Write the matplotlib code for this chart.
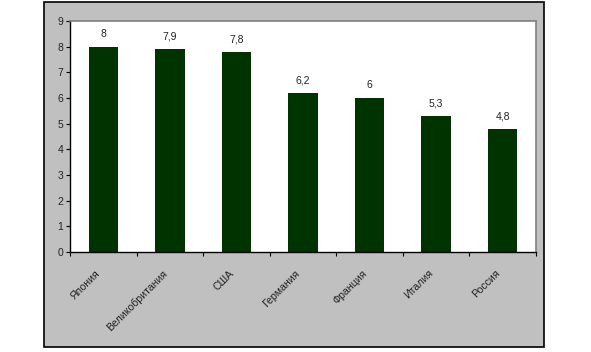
import numpy as np
import matplotlib.pyplot as plt
import matplotlib.transforms as mtransforms
from matplotlib.patches import Rectangle

countries = ["Япония", "Великобритания", "США", "Германия", "Франция", "Италия", "Россия"]
values = [8, 7.9, 7.8, 6.2, 6, 5.3, 4.8]
value_labels = ["8", "7,9", "7,8", "6,2", "6", "5,3", "4,8"]

plt.rcParams['font.family'] = ['Liberation Sans', 'DejaVu Sans']

W, H = 591, 352
fig = plt.figure(figsize=(W / 100, H / 100), dpi=100)
fig.patch.set_facecolor("white")

# outer chart area
fig.patches.append(Rectangle((44 / W, 1 - 347 / H), (544 - 44) / W, (347 - 2) / H,
                             transform=fig.transFigure, facecolor="#C0C0C0",
                             edgecolor="black", linewidth=1.2, zorder=-1))

ax = fig.add_axes([70 / W, 1 - 252 / H, (536 - 70) / W, (252 - 21) / H])
ax.set_zorder(1)
ax.set_facecolor("white")

x = np.arange(len(countries))
ax.bar(x, values, width=0.44, color="#003300", zorder=2)
for xi, v, lab in zip(x, values, value_labels):
    ax.text(xi, v + 0.3, lab, ha="center", va="bottom", fontsize=7.5, color="#222222")

ax.set_xlim(-0.5, len(countries) - 0.5)
ax.set_ylim(0, 9)
ax.set_yticks(range(10))
ax.tick_params(axis="y", labelsize=7.5, length=3, width=0.8, pad=2, direction="out",
               labelcolor="#222222")

ax.set_xticks(np.arange(-0.5, len(countries), 1))
ax.set_xticklabels([])
ax.set_xticks(x, minor=True)
ax.set_xticklabels(countries, minor=True, rotation=45, ha="right", va="top",
                   rotation_mode="anchor", fontsize=7.6, color="#222222")
ax.tick_params(axis="x", which="major", length=3, width=0.8, direction="out")
ax.tick_params(axis="x", which="minor", length=0, pad=11)

shift = mtransforms.ScaledTranslation(-0.08, -0.01, fig.dpi_scale_trans)
for lbl in ax.xaxis.get_minorticklabels():
    lbl.set_transform(lbl.get_transform() + shift)

for side in ["left", "bottom"]:
    ax.spines[side].set_color("black")
    ax.spines[side].set_linewidth(1.0)
for side in ["top", "right"]:
    ax.spines[side].set_color("#808080")
    ax.spines[side].set_linewidth(1.2)

fig.savefig("out.png", dpi=100)
